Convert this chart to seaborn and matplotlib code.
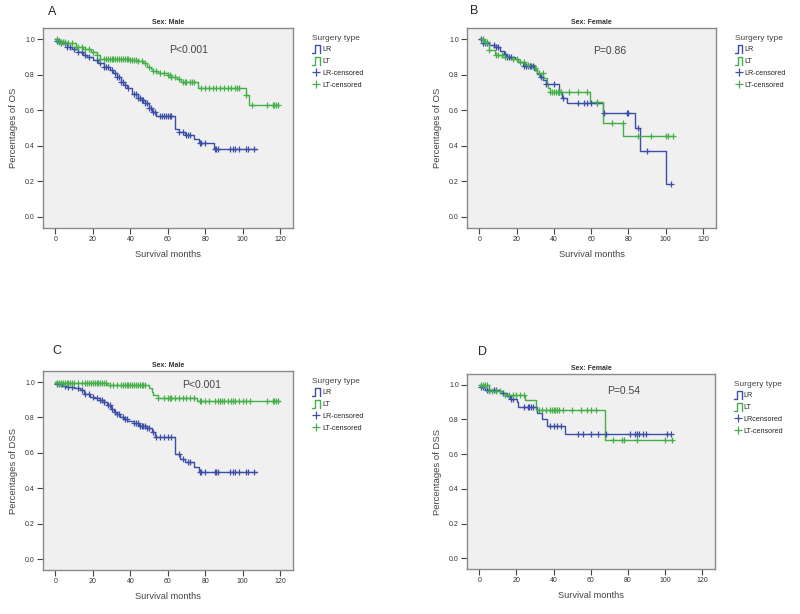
import numpy as np
import pandas as pd
import matplotlib
matplotlib.use('Agg')
import matplotlib.pyplot as plt
from matplotlib.lines import Line2D
from matplotlib.legend_handler import HandlerBase
import seaborn as sns

# Kaplan-Meier step curves (time in months, survival)
# A: OS, male
os_m_lr_t = [0, 1, 3, 6, 9, 12, 15, 17, 20, 23, 26, 29, 31, 33, 35, 37, 38.5, 41, 44, 46, 48, 50, 51.5, 53.5, 64, 66, 69, 74, 76.5, 84.5, 107.5]
os_m_lr_s = [1.0, 0.99, 0.975, 0.957, 0.943, 0.929, 0.91, 0.897, 0.882, 0.865, 0.845, 0.825, 0.807, 0.785, 0.76, 0.74, 0.723, 0.69, 0.667, 0.655, 0.638, 0.615, 0.59, 0.567, 0.497, 0.478, 0.459, 0.44, 0.416, 0.382, 0.382]
os_m_lt_t = [0, 2, 6, 11, 15, 19, 22, 24, 27, 40, 44, 47, 49, 51, 52, 55, 60, 62, 65, 67, 76, 102, 103.5, 119.5]
os_m_lt_s = [1.0, 0.985, 0.975, 0.957, 0.945, 0.929, 0.91, 0.89, 0.885, 0.88, 0.875, 0.865, 0.845, 0.83, 0.82, 0.81, 0.80, 0.785, 0.775, 0.76, 0.727, 0.685, 0.63, 0.63]
os_m_lr_cens = [1, 2, 3, 5, 6, 8, 10, 12, 14, 16, 18, 22, 24, 26, 27, 28, 30, 32, 33, 34, 35, 36, 37, 39, 42, 43, 44, 45, 46, 47, 48, 49, 50, 51, 52, 53, 56, 57, 58, 59, 60, 61, 62, 66, 68, 70, 71, 72, 77, 78, 80, 85, 86, 87, 93, 95, 96, 98, 102, 103, 106]
os_m_lt_cens = [1, 2, 3, 4, 5, 7, 9, 11, 12, 14, 16, 18, 20, 22, 24, 26, 27, 28, 29, 30, 31, 32, 33, 34, 35, 36, 37, 38, 39, 40, 41, 42, 43, 44, 46, 48, 50, 52, 54, 56, 58, 60, 61, 62, 64, 66, 68, 69, 70, 72, 73, 74, 78, 80, 82, 84, 86, 88, 90, 92, 94, 96, 97, 98, 102, 105, 113, 116, 117, 118, 119]

# B: OS, female
os_f_lr_t = [0, 2, 5, 9, 11, 13, 14.5, 19, 21, 23.5, 29.5, 30.7, 32.5, 34, 36, 42.8, 44.5, 46.8, 66.6, 83.6, 86.2, 100.2, 103]
os_f_lr_s = [1.0, 0.98, 0.966, 0.957, 0.933, 0.914, 0.897, 0.885, 0.873, 0.85, 0.826, 0.802, 0.789, 0.768, 0.746, 0.703, 0.67, 0.64, 0.582, 0.502, 0.372, 0.185, 0.185]
os_f_lt_t = [0, 2.5, 5, 8.6, 12.3, 17, 21, 24.5, 29.9, 30.7, 34.3, 36.1, 37, 38, 59.5, 66.6, 77.2, 104]
os_f_lt_s = [1.0, 0.985, 0.94, 0.91, 0.90, 0.89, 0.873, 0.855, 0.835, 0.81, 0.78, 0.75, 0.723, 0.705, 0.648, 0.53, 0.455, 0.455]
os_f_lr_cens = [1, 2, 3, 4, 8, 9, 10, 14, 15, 16, 17, 24, 25, 26, 27, 28, 29, 33, 36, 40, 43, 45, 53, 56, 58, 60, 63, 67, 79, 80, 85, 90, 103]
os_f_lt_cens = [2, 3, 4, 5, 9, 10, 12, 14, 18, 20, 22, 24, 26, 30, 32, 34, 38, 39, 40, 41, 42, 43, 44, 48, 53, 58, 63, 71, 77, 85, 92, 100, 101, 104]

# C: DSS, male
dss_m_lr_t = [0, 1, 3.6, 6.2, 9.8, 13.3, 15.1, 18.7, 20.4, 24, 26, 27.6, 29.5, 31.1, 33, 34.7, 36.5, 38.2, 41.8, 44.4, 48.9, 51.6, 53.3, 64, 66.7, 69.3, 73.8, 76.6, 107.5]
dss_m_lr_s = [1.0, 0.99, 0.98, 0.97, 0.967, 0.955, 0.934, 0.916, 0.91, 0.897, 0.885, 0.869, 0.85, 0.832, 0.818, 0.804, 0.792, 0.782, 0.767, 0.752, 0.739, 0.715, 0.689, 0.595, 0.565, 0.546, 0.52, 0.49, 0.49]
dss_m_lt_t = [0, 1, 27.6, 50, 51.5, 52.4, 55, 75.6, 119.7]
dss_m_lt_s = [1.0, 0.994, 0.985, 0.965, 0.944, 0.925, 0.912, 0.891, 0.891]
dss_m_lr_cens = [1, 2, 3, 5, 7, 9, 12, 14, 16, 18, 20, 22, 24, 25, 26, 28, 29, 30, 32, 33, 34, 36, 37, 38, 42, 43, 44, 45, 46, 47, 48, 49, 50, 52, 54, 56, 58, 60, 62, 66, 68, 71, 72, 77, 78, 80, 85, 86, 87, 93, 95, 96, 98, 102, 103, 106]
dss_m_lt_cens = [1, 2, 3, 4, 5, 6, 7, 8, 9, 10, 12, 14, 16, 17, 18, 19, 20, 21, 22, 23, 24, 25, 26, 27, 29, 31, 33, 35, 36, 37, 38, 39, 40, 41, 42, 43, 44, 45, 46, 47, 48, 55, 58, 60, 61, 62, 64, 66, 68, 70, 72, 74, 77, 78, 80, 82, 85, 87, 88, 89, 90, 92, 94, 95, 96, 98, 100, 102, 104, 113, 116, 117, 118, 119]

# D: DSS, female
dss_f_lr_t = [0, 1, 3.2, 11.2, 14.8, 16.3, 20.2, 21.1, 30.9, 33.6, 36.3, 46.4, 103.2]
dss_f_lr_s = [1.0, 0.985, 0.97, 0.95, 0.938, 0.92, 0.899, 0.87, 0.835, 0.8, 0.765, 0.715, 0.715]
dss_f_lt_t = [0, 5, 13, 24.6, 30.5, 67.8, 104.5]
dss_f_lt_s = [1.0, 0.966, 0.94, 0.911, 0.855, 0.683, 0.683]
dss_f_lr_cens = [1, 2, 4, 5, 8, 9, 13, 16, 17, 18, 24, 26, 27, 28, 29, 38, 40, 42, 44, 53, 56, 60, 64, 68, 81, 84, 85, 86, 88, 90, 101, 103]
dss_f_lt_cens = [1, 2, 3, 4, 5, 7, 9, 11, 14, 16, 18, 20, 22, 24, 32, 34, 36, 38, 39, 40, 41, 42, 43, 45, 50, 55, 58, 60, 63, 72, 77, 78, 85, 100, 104]

x_ticks = [0, 20, 40, 60, 80, 100, 120]
y_ticks = [0.0, 0.2, 0.4, 0.6, 0.8, 1.0]

BLUE = '#3b4fa8'
GREEN = '#45b04a'

sns.set_style('ticks')
plt.rcParams['font.family'] = ['Liberation Sans', 'DejaVu Sans']


class StepKey:
    def __init__(self, color):
        self.color = color


class StepHandler(HandlerBase):
    def create_artists(self, legend, orig_handle, xdescent, ydescent, width, height, fontsize, trans):
        x0, y0 = -xdescent, -ydescent
        xs = np.array([0, 0.45, 0.45, 1.0, 1.0]) * width + x0
        ys = np.array([-0.15, -0.15, 1.15, 1.15, -0.15]) * height + y0
        line = Line2D(xs, ys, color=orig_handle.color, lw=1.0, transform=trans)
        return [line]


def censor_y(times, surv, cens):
    times = np.asarray(times)
    surv = np.asarray(surv)
    idx = np.searchsorted(times, cens, side='right') - 1
    return surv[idx]


def draw_panel(ax, lr_t, lr_s, lt_t, lt_s, lr_c, lt_c, ylabel, sex, ptext, pxy, letter, letter_xy, cens_label):
    ax.set_facecolor('#f0f0f0')
    sns.lineplot(x=lr_t, y=lr_s, drawstyle='steps-post', color=BLUE, lw=1.0, ax=ax)
    sns.lineplot(x=lt_t, y=lt_s, drawstyle='steps-post', color=GREEN, lw=1.0, ax=ax)
    sns.scatterplot(x=lr_c, y=censor_y(lr_t, lr_s, lr_c), marker='+', color=BLUE, s=22, linewidth=0.9, ax=ax, zorder=3)
    sns.scatterplot(x=lt_c, y=censor_y(lt_t, lt_s, lt_c), marker='+', color=GREEN, s=22, linewidth=0.9, ax=ax, zorder=3)

    ax.set_xlim(-6.5, 127)
    ax.set_ylim(-0.062, 1.062)
    ax.set_xticks(x_ticks)
    ax.set_yticks(y_ticks)
    ax.set_yticklabels([f'{v:.1f}' for v in y_ticks])
    ax.tick_params(labelsize=5, length=4, width=0.8, color='#444444', labelcolor='#333333', pad=2)
    for sp in ax.spines.values():
        sp.set_color('#8a8a8a')
        sp.set_linewidth(1.0)
    ax.set_xlabel('Survival months', fontsize=6.7, color='#444444', labelpad=5)
    ax.set_ylabel(ylabel, fontsize=6.8, color='#444444', labelpad=5)
    ax.set_title(sex, fontsize=5, fontweight='bold', color='#333333', pad=3)
    ax.text(pxy[0], pxy[1], ptext, fontsize=7.5, color='#444444', ha='center', va='center')
    ax.text(letter_xy[0], letter_xy[1], letter, transform=ax.transAxes, fontsize=9, ha='left', va='center')

    handles = [StepKey(BLUE), StepKey(GREEN),
               Line2D([], [], color=BLUE, marker='+', ls='none', markersize=6, mew=0.9),
               Line2D([], [], color=GREEN, marker='+', ls='none', markersize=6, mew=0.9)]
    labels = ['LR', 'LT', cens_label[0], cens_label[1]]
    leg = ax.legend(handles, labels, handler_map={StepKey: StepHandler()},
                    loc='upper left', bbox_to_anchor=(1.06, 0.985), frameon=False,
                    title='Surgery type', fontsize=5.2, title_fontsize=6,
                    handlelength=1.1, handleheight=0.9, handletextpad=0.3,
                    labelspacing=0.6, borderpad=0, alignment='left')
    leg.get_title().set_color('#444444')


fig = plt.figure(figsize=(8, 6.14), dpi=100)
ax_a = fig.add_axes([0.054, 0.6287, 0.3125, 0.3257])
ax_b = fig.add_axes([0.584, 0.6287, 0.311, 0.3257])
ax_c = fig.add_axes([0.054, 0.0717, 0.3125, 0.324])
ax_d = fig.add_axes([0.584, 0.0733, 0.31, 0.3176])

draw_panel(ax_a, os_m_lr_t, os_m_lr_s, os_m_lt_t, os_m_lt_s, os_m_lr_cens, os_m_lt_cens,
           'Percentages of OS', 'Sex: Male', 'P<0.001', (71, 0.94), 'A', (0.02, 1.08), ['LR-censored', 'LT-censored'])
draw_panel(ax_b, os_f_lr_t, os_f_lr_s, os_f_lt_t, os_f_lt_s, os_f_lr_cens, os_f_lt_cens,
           'Percentages of OS', 'Sex: Female', 'P=0.86', (70, 0.93), 'B', (0.012, 1.085), ['LR-censored', 'LT-censored'])
draw_panel(ax_c, dss_m_lr_t, dss_m_lr_s, dss_m_lt_t, dss_m_lt_s, dss_m_lr_cens, dss_m_lt_cens,
           'Percentages of DSS', 'Sex: Male', 'P<0.001', (78, 0.985), 'C', (0.036, 1.10), ['LR-censored', 'LT-censored'])
draw_panel(ax_d, dss_f_lr_t, dss_f_lr_s, dss_f_lt_t, dss_f_lt_s, dss_f_lr_cens, dss_f_lt_cens,
           'Percentages of DSS', 'Sex: Female', 'P=0.54', (77.6, 0.963), 'D', (0.044, 1.113), ['LRcensored', 'LT-censored'])

fig.savefig('out.png', dpi=100, facecolor='white')
